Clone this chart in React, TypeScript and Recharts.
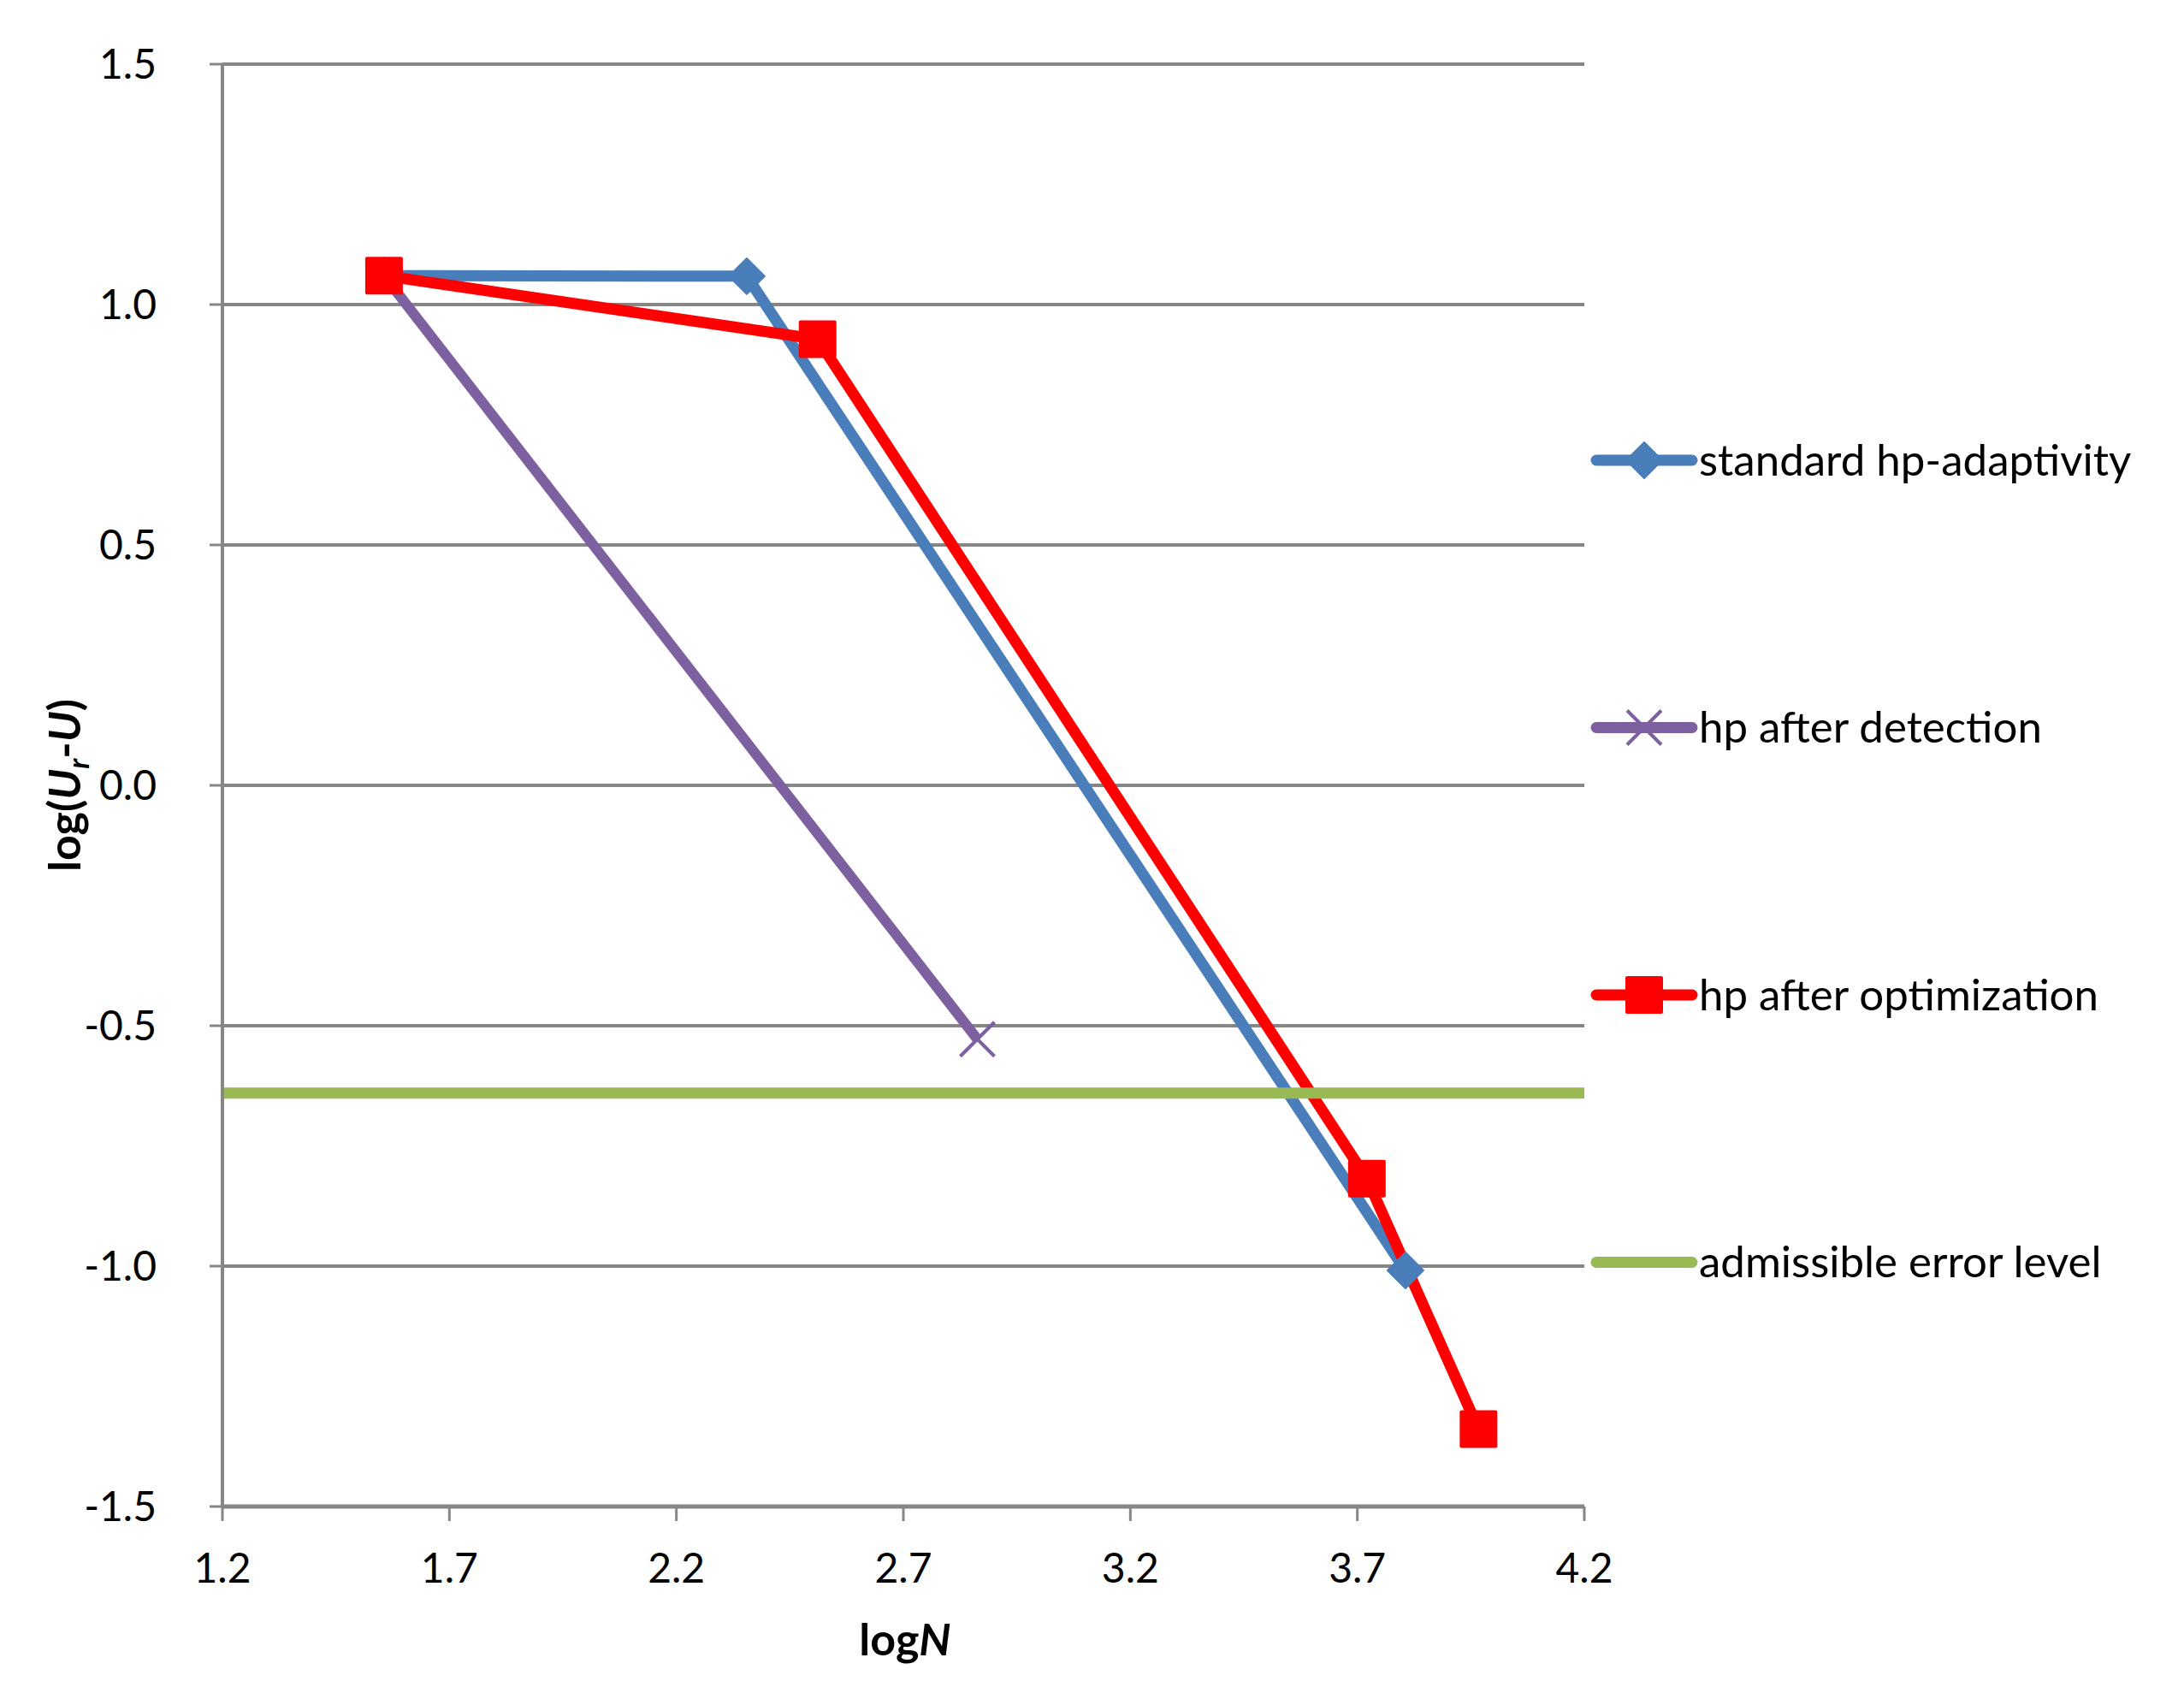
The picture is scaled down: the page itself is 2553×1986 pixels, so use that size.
import * as React from 'react';
import { LineChart, Line, XAxis, YAxis, CartesianGrid } from 'recharts';

// logN vs log(Ur-U)
const standardHp = [
  { x: 1.556, y: 1.06 },
  { x: 2.355, y: 1.059 },
  { x: 3.806, y: -1.009 },
];
const afterDetection = [
  { x: 1.556, y: 1.06 },
  { x: 2.863, y: -0.528 },
];
const afterOptimization = [
  { x: 1.556, y: 1.06 },
  { x: 2.511, y: 0.928 },
  { x: 3.721, y: -0.818 },
  { x: 3.967, y: -1.339 },
];
const admissibleLevel = [
  { x: 1.2, y: -0.64 },
  { x: 4.2, y: -0.64 },
];

const xTicks = [1.2, 1.7, 2.2, 2.7, 3.2, 3.7, 4.2];
const yTicks = [-1.5, -1.0, -0.5, 0.0, 0.5, 1.0, 1.5];

const legendItems = [
  { name: 'standard hp-adaptivity', color: '#4A7EBB', marker: 'diamond' },
  { name: 'hp after detection', color: '#7D60A0', marker: 'cross' },
  { name: 'hp after optimization', color: '#FF0000', marker: 'square' },
  { name: 'admissible error level', color: '#98B954', marker: 'none' },
];

const FONT = 'Lato, "Open Sans", sans-serif';
const GRID = '#868686';

const Diamond = (props: any) => {
  const { cx, cy } = props;
  if (cx == null || cy == null) return null;
  const r = 21;
  return (
    <polygon
      points={`${cx},${cy - r} ${cx + r},${cy} ${cx},${cy + r} ${cx - r},${cy}`}
      fill="#4A7EBB"
      stroke="#4A7EBB"
      strokeWidth={2}
      strokeLinejoin="round"
    />
  );
};

const Square = (props: any) => {
  const { cx, cy } = props;
  if (cx == null || cy == null) return null;
  const s = 44;
  return <rect x={cx - s / 2} y={cy - s / 2} width={s} height={s} rx={2} fill="#FF0000" />;
};

const Cross = (props: any) => {
  const { cx, cy } = props;
  if (cx == null || cy == null) return null;
  const r = 20;
  return (
    <g stroke="#7D60A0" strokeWidth={4}>
      <line x1={cx - r} y1={cy - r} x2={cx + r} y2={cy + r} />
      <line x1={cx - r} y1={cy + r} x2={cx + r} y2={cy - r} />
    </g>
  );
};

// legend drawn straight into the chart svg so it doesn't shrink the plot
const LegendBox = () => (
  <g>
    {legendItems.map((it, i) => {
      const y = 538 + i * 312.5;
      return (
        <g key={it.name}>
          <line x1={1866} y1={y} x2={1978} y2={y} stroke={it.color} strokeWidth={13} strokeLinecap="round" />
          {it.marker === 'diamond' && <Diamond cx={1922} cy={y} />}
          {it.marker === 'square' && <Square cx={1922} cy={y} />}
          {it.marker === 'cross' && <Cross cx={1922} cy={y} />}
          <text x={1986} y={y} dy="0.35em" fontSize={51} fontFamily={FONT} fill="#000">
            {it.name}
          </text>
        </g>
      );
    })}
  </g>
);

const YTitle = () => (
  <text
    transform="translate(94, 918) rotate(-90)"
    textAnchor="middle"
    fontSize={52}
    fontWeight="bold"
    fontFamily={FONT}
    fill="#000"
  >
    log(
    <tspan fontStyle="italic">U</tspan>
    <tspan fontStyle="italic" fontSize={34} dy={10}>r</tspan>
    <tspan dy={-10}>-</tspan>
    <tspan fontStyle="italic">U</tspan>)
  </text>
);

const XTitle = () => (
  <text x={1058} y={1935} textAnchor="middle" fontSize={52} fontWeight="bold" fontFamily={FONT} fill="#000">
    log<tspan fontStyle="italic">N</tspan>
  </text>
);

export default function App() {
  return (
    <div style={{ position: 'absolute', left: 0, top: 0, background: '#fff' }}>
      <LineChart
        width={2553}
        height={1986}
        margin={{ top: 75, right: 701, bottom: 0, left: 0 }}
        style={{ fontFamily: FONT }}
      >
        <CartesianGrid horizontal vertical={false} stroke={GRID} strokeWidth={4} />
        <XAxis
          type="number"
          dataKey="x"
          domain={[1.2, 4.2]}
          ticks={xTicks}
          tickFormatter={(v: number) => v.toFixed(1)}
          height={225}
          axisLine={{ stroke: GRID, strokeWidth: 5 }}
          tickLine={{ stroke: GRID, strokeWidth: 3 }}
          tickSize={17}
          tickMargin={38}
          tick={{ fill: '#000', fontSize: 48, fontFamily: FONT }}
          allowDuplicatedCategory={false}
        />
        <YAxis
          type="number"
          dataKey="y"
          domain={[-1.5, 1.5]}
          ticks={yTicks}
          tickFormatter={(v: number) => v.toFixed(1)}
          width={260}
          axisLine={{ stroke: GRID, strokeWidth: 4 }}
          tickLine={{ stroke: GRID, strokeWidth: 3 }}
          tickSize={15}
          tickMargin={62}
          tick={{ fill: '#000', fontSize: 48, fontFamily: FONT }}
          label={<YTitle />}
        />
        <Line
          data={standardHp}
          dataKey="y"
          name="standard hp-adaptivity"
          stroke="#4A7EBB"
          strokeWidth={13}
          dot={<Diamond />}
          activeDot={false}
          isAnimationActive={false}
        />
        <Line
          data={afterDetection}
          dataKey="y"
          name="hp after detection"
          stroke="#7D60A0"
          strokeWidth={12}
          dot={<Cross />}
          activeDot={false}
          isAnimationActive={false}
        />
        <Line
          data={afterOptimization}
          dataKey="y"
          name="hp after optimization"
          stroke="#FF0000"
          strokeWidth={13}
          dot={<Square />}
          activeDot={false}
          isAnimationActive={false}
        />
        <Line
          data={admissibleLevel}
          dataKey="y"
          name="admissible error level"
          stroke="#98B954"
          strokeWidth={13}
          dot={false}
          activeDot={false}
          isAnimationActive={false}
        />
        <LegendBox />
        <XTitle />
      </LineChart>
    </div>
  );
}
